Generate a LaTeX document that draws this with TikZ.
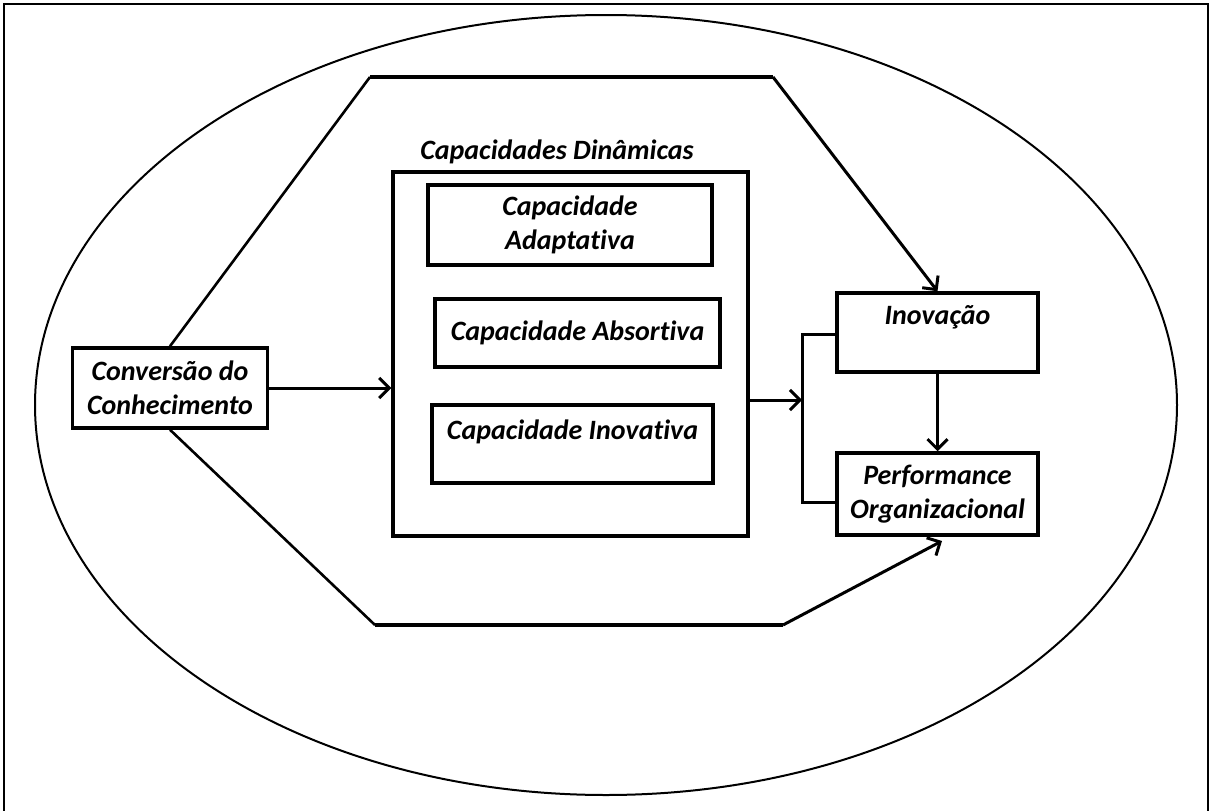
\documentclass[tikz,border=0pt]{standalone}
\usepackage{fontspec}
\setmainfont{Carlito}[Ligatures=CommonOff]
\usetikzlibrary{arrows.meta}
\tikzset{
  boxnode/.style={draw, line width=3.5pt, inner sep=0pt, align=center, font=\fontsize{28}{34}\selectfont\bfseries\itshape},
  txt/.style={inner sep=0pt, align=center, font=\fontsize{28}{34}\selectfont\bfseries\itshape},
  conn/.style={line width=3pt},
  arr/.style={line width=3pt, -{Straight Barb[length=10pt,width=20pt,line width=3pt]}},
  hexedge/.style={line width=2.6pt, line join=round},
  hexflat/.style={line width=4.5pt}
}
\begin{document}
\begin{tikzpicture}[x=1pt,y=-1pt]
\useasboundingbox (0,0) rectangle (1211,811);
% frame
\draw[line width=2pt] (4,811) -- (4,4) -- (1208,4) -- (1208,811);
% ellipse
\draw[line width=2pt] (606,405) ellipse [x radius=571, y radius=390];
% nodes
\node[boxnode, minimum width=195pt, minimum height=80pt] (conv) at (170,388) {Conversão do\\Conhecimento};
\node[boxnode, minimum width=355pt, minimum height=364pt] (cap) at (570.5,354) {};
\node[txt] (captitle) at (557,152) {Capacidades Dinâmicas};
\node[boxnode, minimum width=284pt, minimum height=80pt] (adapt) at (570,225) {Capacidade\\Adaptativa};
\node[boxnode, minimum width=285pt, minimum height=68pt] (absort) at (577.5,333) {Capacidade Absortiva};
\node[boxnode, minimum width=281pt, minimum height=78pt] (inovat) at (572.5,444) {};
\node[txt] (inovattxt) at (572.5,432) {Capacidade Inovativa};
\node[boxnode, minimum width=201pt, minimum height=79pt] (inov) at (937.5,332.5) {};
\node[txt] (inovtxt) at (937.5,317) {Inovação};
\node[boxnode, minimum width=201pt, minimum height=82pt] (perf) at (937.5,494) {Performance\\Organizacional};
% hexagon corners
\coordinate (h1) at (370,77);
\coordinate (h2) at (773,77);
\coordinate (h3) at (375,625);
\coordinate (h4) at (783,625);
\coordinate (perftip) at (942,541);
\draw[hexedge] (conv.north) -- (h1);
\draw[hexflat] (h1) -- (h2);
\draw[hexedge, arr] (h2) -- (inov.north);
\draw[hexedge] (conv.south) -- (h3);
\draw[hexflat] (h3) -- (h4);
\draw[hexedge, arr] (h4) -- (perftip);
% bracket
\coordinate (bt) at (802,334);
\coordinate (bb) at (802,502);
\coordinate (bm) at (802,400);
\draw[conn, line join=miter] (inov.west |- bt) -- (bt) -- (bb) -- (perf.west |- bb);
% arrows
\draw[arr] (conv.east) -- (cap.west |- conv.east);
\draw[arr] (cap.east |- bm) -- (bm);
\draw[arr] (inov.south) -- (perf.north);
\end{tikzpicture}
\end{document}
